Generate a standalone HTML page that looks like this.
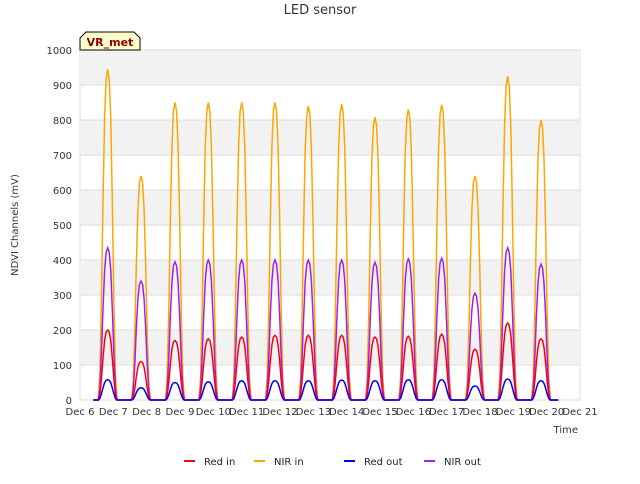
<!DOCTYPE html>
<html><head><meta charset="utf-8"><style>
body{margin:0;background:#fff;font-family:"DejaVu Sans","Liberation Sans",sans-serif;}
svg text{font-family:"DejaVu Sans","Liberation Sans",sans-serif;}
</style></head><body>
<svg id="c" width="640" height="480">
<text x="320" y="14" text-anchor="middle" font-size="13" fill="#333">LED sensor</text>
<g id="bands"></g><g id="grid"></g><g id="series"></g><g id="axes"></g>
<text transform="translate(18,225) rotate(-90)" text-anchor="middle" font-size="10" fill="#333">NDVI Channels (mV)</text>
<text x="578" y="433" text-anchor="end" font-size="10" fill="#333">Time</text>
<g>
<path d="M80,50 L80,38 L86,32 L134,32 L140,38 L140,50 Z" fill="#ffffcc" stroke="#000" stroke-width="1"/>
<text x="110" y="46" text-anchor="middle" font-size="11" font-weight="bold" fill="#8b0000">VR_met</text></g>
<g id="legend"></g>
</svg>
<script>
const days=["Dec 6","Dec 7","Dec 8","Dec 9","Dec 10","Dec 11","Dec 12","Dec 13","Dec 14","Dec 15","Dec 16","Dec 17","Dec 18","Dec 19","Dec 20","Dec 21"];
const yTicks=[0,100,200,300,400,500,600,700,800,900,1000];
const peakDays=[6.83,7.83,8.85,9.85,10.85,11.85,12.85,13.85,14.85,15.85,16.85,17.85,18.83,19.83];
const nirIn=[945,640,850,850,850,850,840,845,808,830,843,640,925,800];
const nirOut=[435,340,395,400,400,400,400,400,393,403,405,305,435,388];
const redIn=[200,110,170,175,180,185,185,185,180,182,188,145,220,175];
const redOut=[58,35,50,52,55,55,55,57,55,58,58,40,60,55];
const profile=[0,0.08,0.3,0.6,0.85,0.97,1,0.97,0.85,0.6,0.3,0.08,0];
const startDay=6.4,endDay=20.35,halfWidth=0.28;
const X0=80,X1=580,Y0=400,Y1=50;
const x=d=>X0+(d-6)/15*(X1-X0);
const y=v=>Y0-v/1000*(Y0-Y1);
const NS="http://www.w3.org/2000/svg";
function mk(t,p,a){const e=document.createElementNS(NS,t);for(const k in a)e.setAttribute(k,a[k]);p.appendChild(e);return e;}
const bands=document.getElementById('bands'),grid=document.getElementById('grid'),axes=document.getElementById('axes'),ser=document.getElementById('series'),leg=document.getElementById('legend');
const bg=mk('rect',bands,{x:X0,y:Y1,width:X1-X0,height:Y0-Y1,fill:'#fff',stroke:'#ddd'});


for(let i=0;i<yTicks.length-1;i++){if(i%2===1){const r=mk('rect',bands,{x:X0,y:y(yTicks[i+1]),width:X1-X0,height:y(yTicks[i])-y(yTicks[i+1]),fill:'#f2f2f2'});

}}
yTicks.forEach(v=>{const l=mk('line',grid,{x1:X0,x2:X1,y1:y(v),y2:y(v),stroke:'#ddd'});


const t=mk('text',axes,{x:X0-8,y:y(v)+4,'text-anchor':'end','font-size':10,fill:'#333'});t.textContent=v;

});
days.forEach((d,i)=>{const t=mk('text',axes,{x:x(6+i),y:Y0+15,'text-anchor':'middle','font-size':10,fill:'#333'});t.textContent=d;

});
function path(vals){let pts=[[x(startDay),y(0)]];peakDays.forEach((pd,i)=>{profile.forEach((f,j)=>{const d=pd-halfWidth+2*halfWidth*j/(profile.length-1);pts.push([x(d),y(vals[i]*f)]);});});pts.push([x(endDay),y(0)]);return 'M'+pts.map(p=>p[0].toFixed(1)+','+p[1].toFixed(1)).join('L');}
const series=[["Red in",redIn,"red"],["NIR in",nirIn,"orange"],["Red out",redOut,"blue"],["NIR out",nirOut,"#a020f0"]];
[[nirIn,"orange","nir-in-line"],[nirOut,"#a020f0","nir-out-line"],[redIn,"red","red-in-line"],[redOut,"blue","red-out-line"]].forEach(s=>{const p=mk('path',ser,{d:path(s[0]),fill:'none',stroke:s[1],'stroke-width':1.5});

});
const lx=[184,254,344,424];
series.forEach((s,i)=>{const g=mk('g',leg,{});


mk('line',g,{x1:lx[i],x2:lx[i]+11,y1:461,y2:461,stroke:s[2],'stroke-width':2});const t=mk('text',g,{x:lx[i]+20,y:465,'font-size':10,fill:'#222'});t.textContent=s[0];});
</script>
</body></html>
